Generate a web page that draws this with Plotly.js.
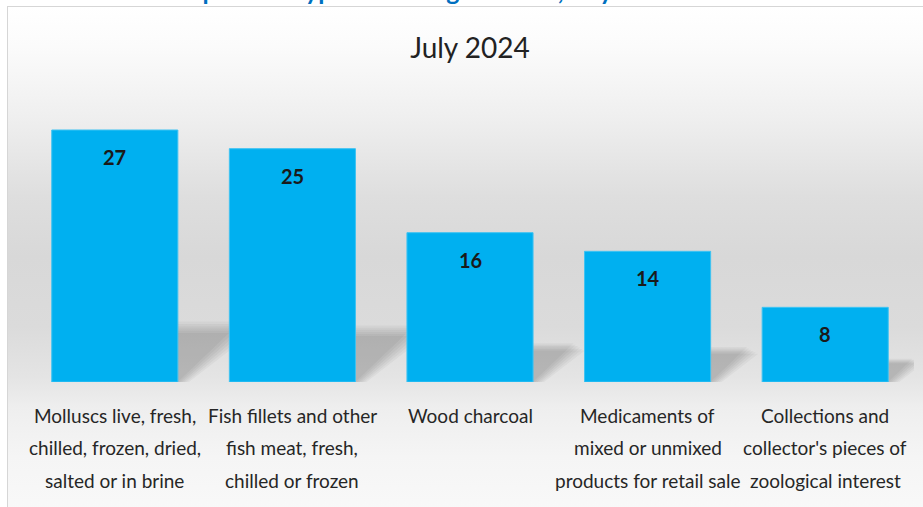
<!DOCTYPE html>
<html>
<head>
<meta charset="utf-8">
<script src="https://cdn.plot.ly/plotly-3.0.1.min.js"></script>
<style>
  html, body { margin: 0; padding: 0; background: #ffffff; width: 923px; height: 507px; overflow: hidden; }
  #frame {
    position: absolute; left: 7px; top: 6px; width: 940px; height: 520px;
    border: 1px solid #d6d6d6;
    background: linear-gradient(to bottom, #ffffff 0px, #fbfbfb 40px, #efefef 110px, #dedede 190px, #d8d8d8 250px, #dbdbdb 320px, #e4e4e4 370px, #eeeeee 400px, #f5f5f5 450px, #f9f9f9 510px);
  }
  #chart { position: absolute; left: 0; top: 0; width: 923px; height: 507px; }
</style>
</head>
<body>
<div id="frame"></div>
<div id="chart"></div>
<script>
// ---- data ----
const categories = [
  "Molluscs live, fresh,<br>chilled, frozen, dried,<br>salted or in brine",
  "Fish fillets and other<br>fish meat, fresh,<br>chilled or frozen",
  "Wood charcoal",
  "Medicaments of<br>mixed or unmixed<br>products for retail sale",
  "Collections and<br>collector's pieces of<br>zoological interest"
];
const values = [27, 25, 16, 14, 8];
const chartTitle = "July 2024";
const headerText = "Main product types with largest value, July 2024";

// ---- layout helpers ----
const FONT = "Lato, 'Open Sans', sans-serif";
const idx = categories.map((c, i) => i);
const halfW = 0.355;

const annotations = [];
// value labels
values.forEach((v, i) => {
  annotations.push({
    x: i, y: v, xref: 'x', yref: 'y', text: '<b>' + v + '</b>', showarrow: false,
    yanchor: 'middle', yshift: -27,
    font: {family: FONT, size: 20, color: '#1a1a1a'}
  });
});
// category labels, one annotation per line
const lineY = [-0.1214, -0.2357, -0.35];
categories.forEach((c, i) => {
  c.split('<br>').forEach((line, k) => {
    annotations.push({
      x: i, y: lineY[k], xref: 'x', yref: 'paper', text: line, showarrow: false,
      yanchor: 'middle', font: {family: FONT, size: 19, color: '#262626'}
    });
  });
});
// clipped header at the top
annotations.push({
  x: 0.43, y: 1.338, xref: 'paper', yref: 'paper', text: '<b>' + headerText + '</b>',
  showarrow: false, yanchor: 'bottom', xanchor: 'center',
  font: {family: FONT, size: 25, color: '#0070C0'}
});

// soft perspective shadows
const shapes = [];
const layers = [];
for (let k = 0; k < 6; k++) layers.push({g: k * 0.025, o: 0.035});
values.forEach((v, i) => {
  const h = v * 0.21 + 0.8;
  const dx = h * 0.055;
  layers.forEach(L => {
    const x0 = i - halfW, x1 = i + halfW + L.g * 0.5;
    const hh = h * (1 - L.g * 1.5);
    shapes.push({
      type: 'path', xref: 'x', yref: 'y', layer: 'below', line: {width: 0},
      fillcolor: 'rgba(0,0,0,' + L.o + ')',
      path: 'M ' + x0 + ' 0 L ' + x1 + ' 0 L ' + (x1 + dx) + ' ' + hh + ' L ' + (x0 + dx) + ' ' + hh + ' Z'
    });
  });
});

const trace = {
  type: 'bar', x: idx, y: values,
  marker: {color: '#00B0F0', line: {color: '#3FC3F2', width: 1}},
  hoverinfo: 'skip', width: 2 * halfW
};

const layout = {
  width: 923, height: 507,
  margin: {l: 26, r: 9, t: 102, b: 125},
  paper_bgcolor: 'rgba(0,0,0,0)', plot_bgcolor: 'rgba(0,0,0,0)',
  title: {text: chartTitle, x: 0.5, xref: 'paper', y: 0.905, yref: 'container', yanchor: 'middle',
          font: {family: FONT, size: 28, color: '#222222'}},
  xaxis: {range: [-0.5, 4.5], showticklabels: false, showgrid: false, zeroline: false, showline: false, fixedrange: true},
  yaxis: {range: [0, 30], showticklabels: false, showgrid: false, zeroline: false, showline: false, fixedrange: true},
  showlegend: false, annotations: annotations, shapes: shapes
};

Plotly.newPlot('chart', [trace], layout, {displayModeBar: false, staticPlot: true});
</script>
</body>
</html>
